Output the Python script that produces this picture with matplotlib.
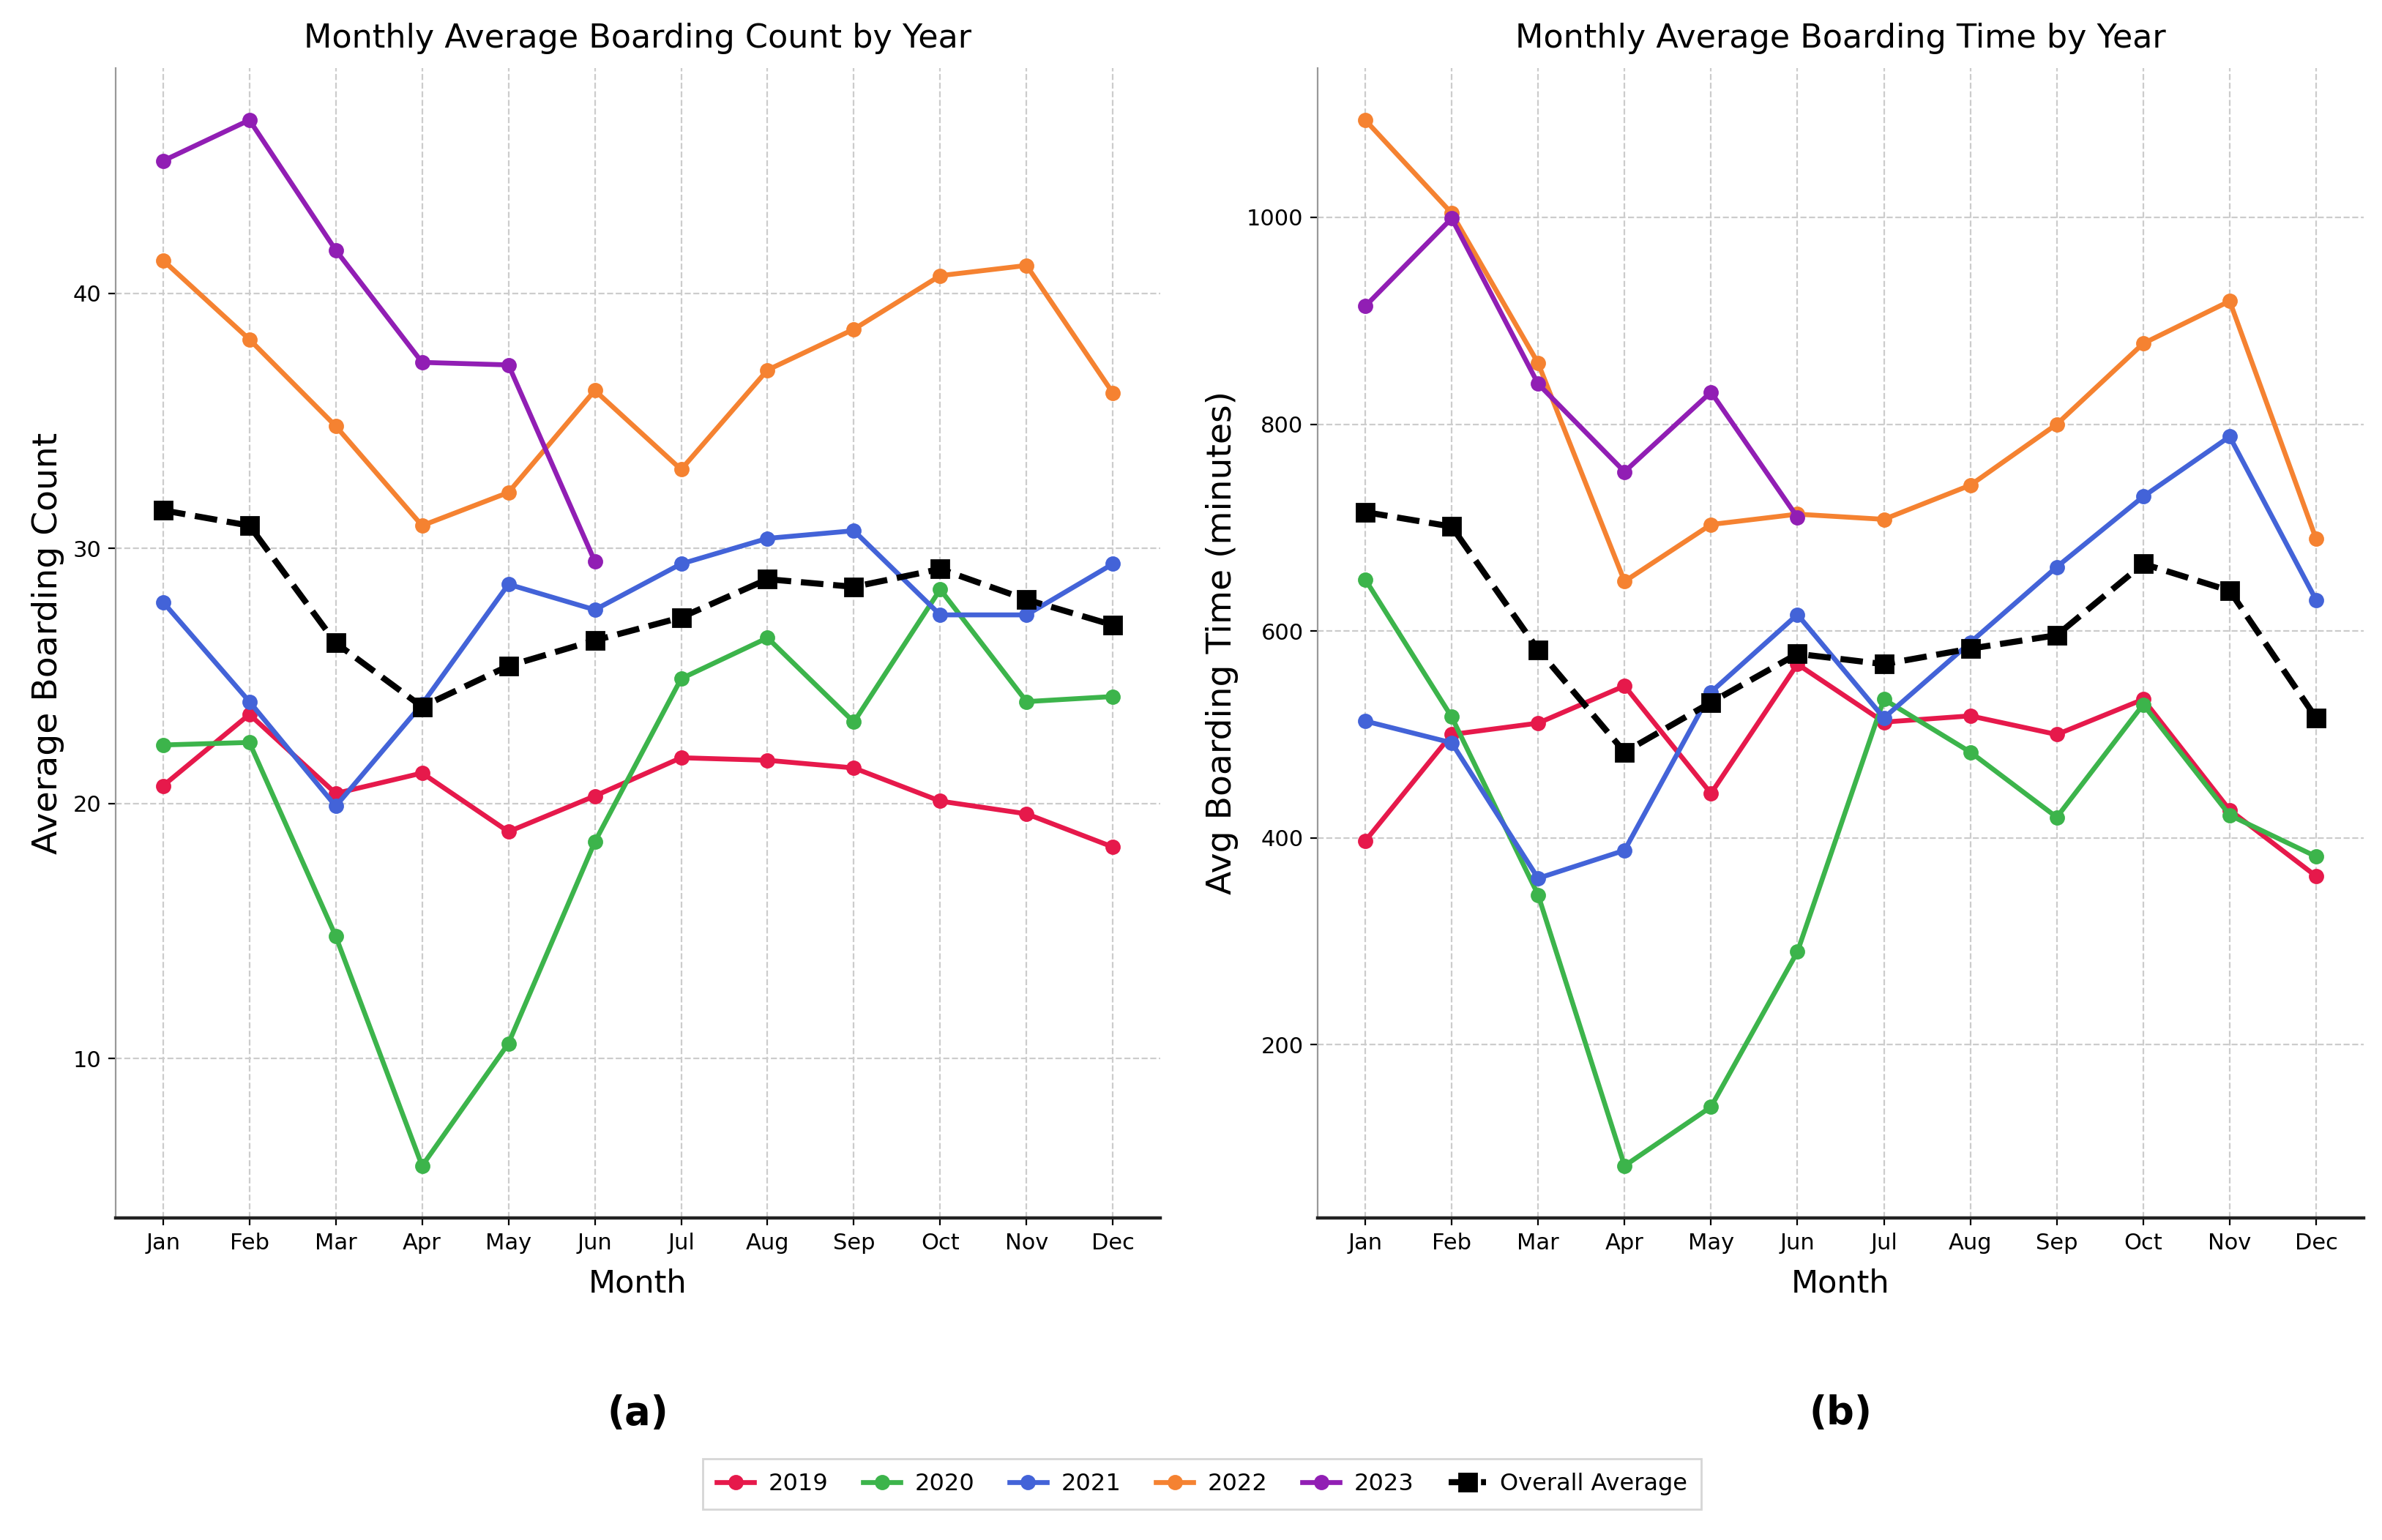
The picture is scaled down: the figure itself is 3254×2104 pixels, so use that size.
import matplotlib
matplotlib.use("Agg")
import matplotlib.pyplot as plt

plt.rcParams['font.family'] = ['DejaVu Sans']

months = ['Jan', 'Feb', 'Mar', 'Apr', 'May', 'Jun', 'Jul', 'Aug', 'Sep', 'Oct', 'Nov', 'Dec']
years = ['2019', '2020', '2021', '2022', '2023']
colors = ['#e6194b', '#3cb44b', '#4363d8', '#f58231', '#911eb4']

# (a) average boarding count
count_2019 = [20.7, 23.5, 20.4, 21.2, 18.9, 20.3, 21.8, 21.7, 21.4, 20.1, 19.6, 18.3]
count_2020 = [22.3, 22.4, 14.8, 5.8, 10.6, 18.5, 24.9, 26.5, 23.2, 28.4, 24.0, 24.2]
count_2021 = [27.9, 24.0, 19.9, 23.9, 28.6, 27.6, 29.4, 30.4, 30.7, 27.4, 27.4, 29.4]
count_2022 = [41.3, 38.2, 34.8, 30.9, 32.2, 36.2, 33.1, 37.0, 38.6, 40.7, 41.1, 36.1]
count_2023 = [45.2, 46.8, 41.7, 37.3, 37.2, 29.5]
count_avg = [31.5, 30.9, 26.3, 23.8, 25.4, 26.4, 27.3, 28.8, 28.5, 29.2, 28.0, 27.0]

# (b) average boarding time (minutes)
time_2019 = [397, 500, 511, 547, 443, 568, 512, 518, 500, 534, 427, 363]
time_2020 = [650, 517, 345, 83, 140, 290, 534, 483, 420, 529, 422, 382]
time_2021 = [513, 492, 361, 388, 541, 616, 516, 589, 662, 730, 788, 630]
time_2022 = [1094, 1004, 859, 648, 703, 713, 708, 741, 800, 878, 919, 689]
time_2023 = [914, 999, 839, 754, 831, 710]
time_avg = [715, 701, 582, 483, 531, 578, 568, 583, 596, 665, 639, 516]

panels = [
    ('Monthly Average Boarding Count by Year', 'Average Boarding Count',
     [count_2019, count_2020, count_2021, count_2022, count_2023], count_avg, '(a)'),
    ('Monthly Average Boarding Time by Year', 'Avg Boarding Time (minutes)',
     [time_2019, time_2020, time_2021, time_2022, time_2023], time_avg, '(b)'),
]

fig = plt.figure(figsize=(16.275, 10.52), dpi=200)
ax1 = fig.add_axes([0.0485, 0.209, 0.4385, 0.747])
ax2 = fig.add_axes([0.553, 0.209, 0.439, 0.747])

for ax, (title, ylabel, series, avg, tag) in zip([ax1, ax2], panels):
    for year, vals, c in zip(years, series, colors):
        ax.plot(months[:len(vals)], vals, color=c, marker='o', markersize=6.5,
                linewidth=2.4, label=year)
    ax.plot(months, avg, color='black', marker='s', markersize=8.5,
            linewidth=3, linestyle='--', label='Overall Average')
    ax.set_title(title, fontsize=16, pad=10)
    ax.set_xlabel('Month', fontsize=15.5, labelpad=7)
    ax.set_ylabel(ylabel, fontsize=17)
    ax.tick_params(labelsize=11)
    ax.grid(True, linestyle='--', color='#cccccc', linewidth=0.8)
    ax.spines['top'].set_visible(False)
    ax.spines['right'].set_visible(False)
    ax.spines['left'].set_color('#999999')
    ax.spines['left'].set_linewidth(0.8)
    ax.spines['bottom'].set_color('#222222')
    ax.spines['bottom'].set_linewidth(1.6)
    ax.text(0.5, -0.17, tag, transform=ax.transAxes, ha='center', va='center',
            fontsize=19, fontweight='bold')

ax1.set_yticks([10, 20, 30, 40])
ax2.set_yticks([200, 400, 600, 800, 1000])

handles, labels = ax1.get_legend_handles_labels()
fig.legend(handles, labels, loc='center', bbox_to_anchor=(0.5045, 0.0365), ncol=6,
           fontsize=11.5, frameon=True, fancybox=False, edgecolor='#cccccc',
           handlelength=1.6, columnspacing=1.5, handletextpad=0.6, borderpad=0.6)

fig.savefig('out.png', dpi=200)
